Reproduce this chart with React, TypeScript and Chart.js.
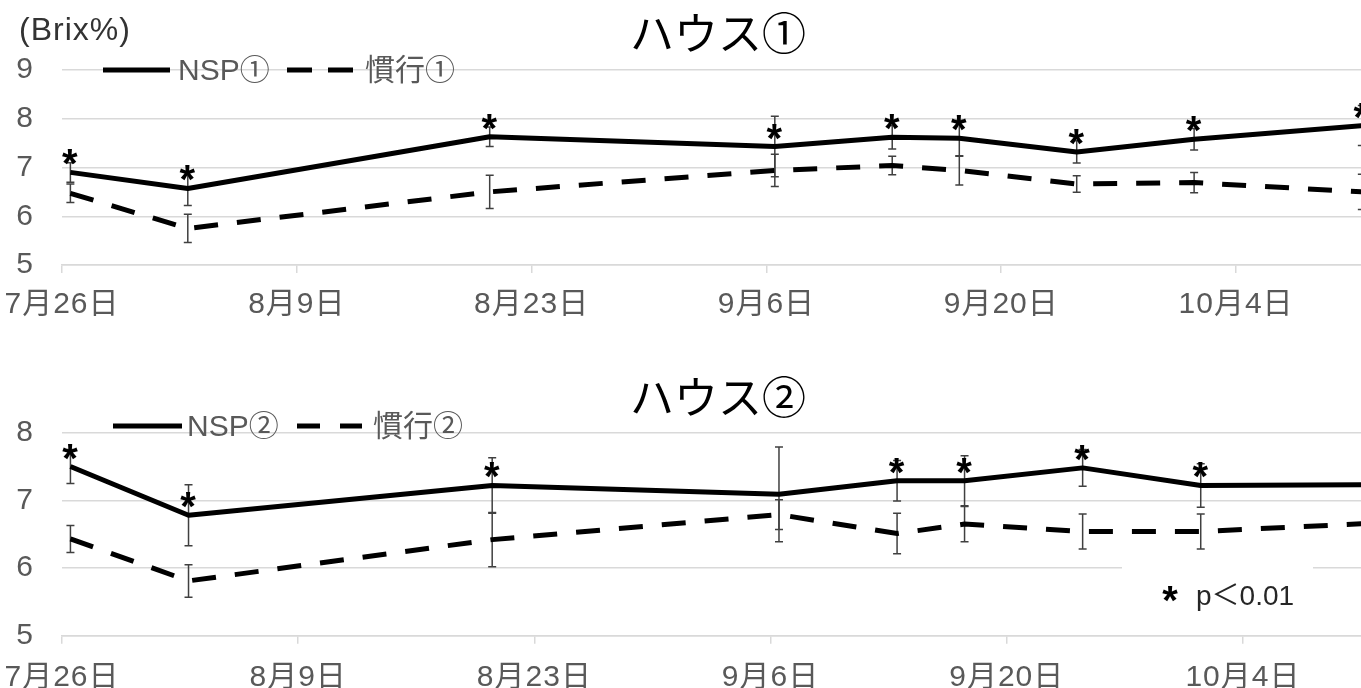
import React, { useEffect, useRef } from 'react';
import { Chart, registerables } from 'chart.js';

Chart.register(...registerables);

// Sampling dates (month/day) shared by both houses
const sampleDates = ['7/26', '8/2', '8/20', '9/6', '9/13', '9/17', '9/24', '10/1', '10/11'];

// Date-axis ticks every two weeks
const tickDates = ['7/26', '8/9', '8/23', '9/6', '9/20', '10/4'];
const tickLabels = ['7月26日', '8月9日', '8月23日', '9月6日', '9月20日', '10月4日'];

// House 1: Brix (%) means and error (±)
const nsp1 = [6.9, 6.57, 7.63, 7.43, 7.62, 7.6, 7.32, 7.58, 7.86];
const nsp1Err = [0.2, 0.35, 0.2, 0.62, 0.24, 0.37, 0.23, 0.22, 0.41];
const conv1 = [6.47, 5.75, 6.5, 6.94, 7.04, 6.94, 6.66, 6.69, 6.5];
const conv1Err = [0.19, 0.29, 0.34, 0.33, 0.19, 0.3, 0.17, 0.21, 0.36];
const sig1 = [true, true, true, true, true, true, true, true, true];

// House 2: Brix (%) means and error (±)
const nsp2 = [7.5, 6.78, 7.22, 7.09, 7.29, 7.29, 7.48, 7.22, 7.23];
const nsp2Err = [0.25, 0.45, 0.41, 0.7, 0.3, 0.37, 0.27, 0.32, 0.3];
const conv2 = [6.43, 5.81, 6.42, 6.79, 6.51, 6.65, 6.54, 6.54, 6.66];
const conv2Err = [0.2, 0.24, 0.4, 0.22, 0.3, 0.26, 0.26, 0.26, 0.25];
const sig2 = [true, true, true, false, true, true, true, true, true];

// Y ranges
const yRange1 = [5, 9];
const yRange2 = [5, 8];

// X range end (days after 7/26) for each panel
const xMax1 = 77.45;
const xMax2 = 77.0;

const FONT = "'Liberation Sans', 'Noto Sans CJK JP', sans-serif";
const CJK = "'Noto Sans CJK JP', sans-serif";
const GRID = '#d9d9d9';
const TICK_TEXT = '#595959';

function dayOf(md: string): number {
  const [m, d] = md.split('/').map(Number);
  return (Date.UTC(2021, m - 1, d) - Date.UTC(2021, 6, 26)) / 86400000;
}

// Excel-style date axis: a value sits in the middle of its day slot
const sampleX = sampleDates.map((d) => dayOf(d) + 0.5);
const tickX = tickDates.map(dayOf);

interface PanelCfg {
  title: string;
  nsp: number[];
  nspErr: number[];
  conv: number[];
  convErr: number[];
  sig: boolean[];
  yRange: number[];
  xMax: number;
  padTop: number;
  axisH: number;
  labelPad: number;
  legend: {
    y: number;
    solid: [number, number];
    nspText: number;
    nspLabel: string;
    dashes: [number, number][];
    convText: number;
    convLabel: string;
  };
  titleY: number;
  unit?: boolean;
  note?: boolean;
}

function drawStar(ctx: CanvasRenderingContext2D, x: number, cy: number) {
  ctx.save();
  ctx.font = `bold 40px ${FONT}`;
  ctx.fillStyle = '#000';
  ctx.textAlign = 'center';
  ctx.textBaseline = 'alphabetic';
  const m = ctx.measureText('*');
  const base = cy + (m.actualBoundingBoxAscent - m.actualBoundingBoxDescent) / 2;
  ctx.fillText('*', x, base);
  ctx.restore();
}

function makeDecor(cfg: PanelCfg) {
  return {
    id: 'panelDecor',
    beforeDraw(chart: any) {
      // slightly wider lettering for axis labels
      (chart.ctx as any).letterSpacing = '1px';
    },
    beforeDatasetsDraw(chart: any) {
      const { ctx } = chart;
      const xs = chart.scales.x;
      const ys = chart.scales.y;
      ctx.save();
      ctx.strokeStyle = '#404040';
      ctx.lineWidth = 1.5;
      const series = [
        { v: cfg.nsp, e: cfg.nspErr },
        { v: cfg.conv, e: cfg.convErr },
      ];
      for (const s of series) {
        s.v.forEach((val, i) => {
          const x = xs.getPixelForValue(sampleX[i]);
          const y1 = ys.getPixelForValue(val + s.e[i]);
          const y2 = ys.getPixelForValue(val - s.e[i]);
          ctx.beginPath();
          ctx.moveTo(x, y1);
          ctx.lineTo(x, y2);
          ctx.moveTo(x - 4, y1);
          ctx.lineTo(x + 4, y1);
          ctx.moveTo(x - 4, y2);
          ctx.lineTo(x + 4, y2);
          ctx.stroke();
        });
      }
      ctx.restore();
    },
    afterDatasetsDraw(chart: any) {
      const { ctx } = chart;
      const xs = chart.scales.x;
      const ys = chart.scales.y;
      cfg.nsp.forEach((val, i) => {
        if (!cfg.sig[i]) return;
        const x = xs.getPixelForValue(sampleX[i]);
        const y = ys.getPixelForValue(val);
        drawStar(ctx, x, y - 15);
      });
    },
    afterDraw(chart: any) {
      const { ctx } = chart;
      ctx.save();
      (ctx as any).letterSpacing = '0px';
      // title
      ctx.fillStyle = '#000';
      ctx.font = `44px ${CJK}`;
      ctx.textAlign = 'center';
      ctx.textBaseline = 'middle';
      ctx.fillText(cfg.title, 718, cfg.titleY);

      // unit label
      if (cfg.unit) {
        ctx.fillStyle = '#333';
        ctx.font = `32px ${FONT}`;
        ctx.textAlign = 'left';
        (ctx as any).letterSpacing = '1px';
        ctx.fillText('(Brix%)', 19, 31);
        (ctx as any).letterSpacing = '0px';
      }

      // legend
      const lg = cfg.legend;
      ctx.strokeStyle = '#000';
      ctx.lineWidth = 5;
      ctx.lineCap = 'butt';
      ctx.beginPath();
      ctx.moveTo(lg.solid[0], lg.y);
      ctx.lineTo(lg.solid[1], lg.y);
      for (const [a, b] of lg.dashes) {
        ctx.moveTo(a, lg.y);
        ctx.lineTo(b, lg.y);
      }
      ctx.stroke();
      ctx.fillStyle = TICK_TEXT;
      ctx.font = `30px ${FONT}`;
      ctx.textAlign = 'left';
      ctx.textBaseline = 'middle';
      ctx.fillText(lg.nspLabel, lg.nspText, lg.y + 2);
      ctx.fillText(lg.convLabel, lg.convText, lg.y + 2);

      // significance note
      if (cfg.note) {
        ctx.fillStyle = '#fff';
        ctx.fillRect(1122, 216, 191, 70);
        drawStar(ctx, 1170, 254);
        ctx.fillStyle = '#262626';
        ctx.font = `28px ${FONT}`;
        ctx.textAlign = 'left';
        ctx.textBaseline = 'middle';
        ctx.fillText('p＜0.01', 1196, 257);
      }
      ctx.restore();
    },
  };
}

function buildConfig(cfg: PanelCfg): any {
  return {
    type: 'line',
    data: {
      datasets: [
        {
          label: cfg.legend.nspLabel,
          data: cfg.nsp.map((v, i) => ({ x: sampleX[i], y: v })),
          borderColor: '#000',
          borderWidth: 5,
          pointRadius: 0,
          tension: 0,
          clip: false,
          borderJoinStyle: 'round',
        },
        {
          label: cfg.legend.convLabel,
          data: cfg.conv.map((v, i) => ({ x: sampleX[i], y: v })),
          borderColor: '#000',
          borderWidth: 5,
          borderDash: [24, 19],
          pointRadius: 0,
          tension: 0,
          clip: false,
        },
      ],
    },
    options: {
      animation: false,
      responsive: false,
      events: [],
      layout: { padding: { top: cfg.padTop, right: 0, bottom: 0, left: 0 } },
      plugins: {
        legend: { display: false },
        tooltip: { enabled: false },
        title: { display: false },
      },
      scales: {
        x: {
          type: 'linear',
          min: 0,
          max: cfg.xMax,
          afterBuildTicks: (s: any) => {
            s.ticks = tickX.map((v) => ({ value: v }));
          },
          afterFit: (s: any) => {
            s.height = cfg.axisH;
            s.paddingLeft = 0;
            s.paddingRight = 0;
          },
          ticks: {
            autoSkip: false,
            maxRotation: 0,
            padding: cfg.labelPad,
            color: TICK_TEXT,
            font: { family: FONT, size: 30 },
            callback: (v: number) => {
              const i = tickX.indexOf(v);
              return i >= 0 ? tickLabels[i] : '';
            },
          },
          grid: {
            drawOnChartArea: false,
            drawTicks: true,
            tickLength: 8,
            tickColor: GRID,
            lineWidth: 1.5,
          },
          border: { display: true, color: GRID, width: 1.5 },
        },
        y: {
          min: cfg.yRange[0],
          max: cfg.yRange[1],
          afterFit: (s: any) => {
            s.width = 62;
            s.paddingTop = 0;
            s.paddingBottom = 0;
          },
          ticks: {
            stepSize: 1,
            padding: 28,
            color: TICK_TEXT,
            font: { family: FONT, size: 30 },
          },
          grid: { color: GRID, lineWidth: 1.5, drawTicks: false },
          border: { display: false },
        },
      },
    },
    plugins: [makeDecor(cfg)],
  };
}

const panel1: PanelCfg = {
  title: 'ハウス①',
  nsp: nsp1,
  nspErr: nsp1Err,
  conv: conv1,
  convErr: conv1Err,
  sig: sig1,
  yRange: yRange1,
  xMax: xMax1,
  padTop: 70,
  axisH: 75,
  labelPad: 14,
  legend: {
    y: 70,
    solid: [103, 170],
    nspText: 178,
    nspLabel: 'NSP①',
    dashes: [
      [287, 312],
      [328, 353],
    ],
    convText: 365,
    convLabel: '慣行①',
  },
  titleY: 33,
  unit: true,
};

const panel2: PanelCfg = {
  title: 'ハウス②',
  nsp: nsp2,
  nspErr: nsp2Err,
  conv: conv2,
  convErr: conv2Err,
  sig: sig2,
  yRange: yRange2,
  xMax: xMax2,
  padTop: 92.7,
  axisH: 52.3,
  labelPad: 16,
  legend: {
    y: 86,
    solid: [113, 182],
    nspText: 187,
    nspLabel: 'NSP②',
    dashes: [
      [297, 320],
      [340, 362],
    ],
    convText: 373,
    convLabel: '慣行②',
  },
  titleY: 57,
  note: true,
};

function Panel({ cfg, top, height }: { cfg: PanelCfg; top: number; height: number }) {
  const ref = useRef<HTMLCanvasElement | null>(null);
  useEffect(() => {
    if (!ref.current) return;
    const chart = new Chart(ref.current, buildConfig(cfg));
    return () => chart.destroy();
  }, [cfg]);
  return (
    <canvas
      ref={ref}
      width={1361}
      height={height}
      style={{ position: 'absolute', left: 0, top, width: 1361, height }}
    />
  );
}

export default function App() {
  return (
    <div
      style={{
        position: 'fixed',
        left: 0,
        top: 0,
        width: 1361,
        height: 688,
        overflow: 'hidden',
        background: '#fff',
      }}
    >
      <Panel cfg={panel1} top={0} height={340} />
      <Panel cfg={panel2} top={340} height={348} />
    </div>
  );
}
